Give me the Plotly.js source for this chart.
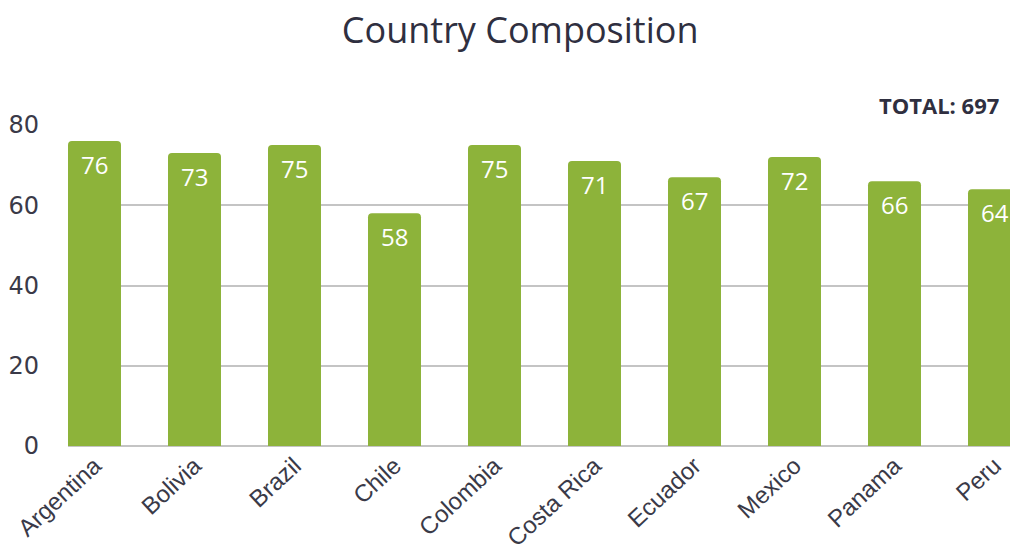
<!DOCTYPE html>
<html>
<head>
<meta charset="utf-8">
<script src="https://cdn.plot.ly/plotly-3.0.1.min.js"></script>
<style>html,body{margin:0;padding:0;background:#fff;overflow:hidden}#chart{width:1010px;height:553px}</style>
</head>
<body>
<div id="chart"></div>
<script>
var countries = ["Argentina","Bolivia","Brazil","Chile","Colombia","Costa Rica","Ecuador","Mexico","Panama","Peru"];
var counts = [76, 73, 75, 58, 75, 71, 67, 72, 66, 64];
var yTicks = [0, 20, 40, 60, 80];
var totalLabel = "TOTAL: 697";
var chartTitle = "Country Composition";

var trace = {
  type: "bar",
  x: countries,
  y: counts,
  marker: {color: "#8db33a", cornerradius: 4},
  width: 0.53,
  hoverinfo: "x+y"
};

var valueLabels = countries.map(function (c, i) {
  return {
    x: c, y: counts[i], xref: "x", yref: "y",
    text: String(counts[i]),
    showarrow: false,
    xanchor: "center", yanchor: "top",
    yshift: -5,
    font: {family: "Open Sans, sans-serif", size: 24, color: "#ffffff"}
  };
});

var layout = {
  width: 1010,
  height: 553,
  margin: {l: 68, r: 0, t: 125, b: 107},
  paper_bgcolor: "#ffffff",
  plot_bgcolor: "#ffffff",
  showlegend: false,
  title: {
    text: chartTitle,
    font: {family: "Open Sans, sans-serif", size: 36, color: "#2f2f40"},
    x: 0.515, xanchor: "center",
    y: 0.945, yanchor: "middle"
  },
  xaxis: {
    type: "category",
    range: [-0.265, 9.155],
    tickangle: -43,
    tickfont: {family: "Liberation Sans, sans-serif", size: 24, color: "#3a3a48"},
    showgrid: false,
    zeroline: false,
    showline: false,
    ticks: ""
  },
  yaxis: {
    range: [0, 80],
    tickvals: yTicks,
    ticktext: yTicks.map(String),
    tickfont: {family: "DejaVu Sans, sans-serif", size: 24, color: "#3a3a48"},
    showgrid: true,
    gridcolor: "#c4c4c4",
    gridwidth: 2,
    zeroline: true,
    zerolinecolor: "#c4c4c4",
    zerolinewidth: 2,
    ticks: "",
    ticklabelstandoff: 28
  },
  annotations: valueLabels.concat([{
    text: "<b>" + totalLabel + "</b>",
    xref: "paper", yref: "paper",
    x: 0.99, y: 1.0,
    xanchor: "right", yanchor: "middle",
    yshift: 20,
    showarrow: false,
    font: {family: "Open Sans, sans-serif", size: 22, color: "#2f2f40"}
  }])
};

Plotly.newPlot("chart", [trace], layout, {displayModeBar: false, staticPlot: true});
</script>
</body>
</html>
